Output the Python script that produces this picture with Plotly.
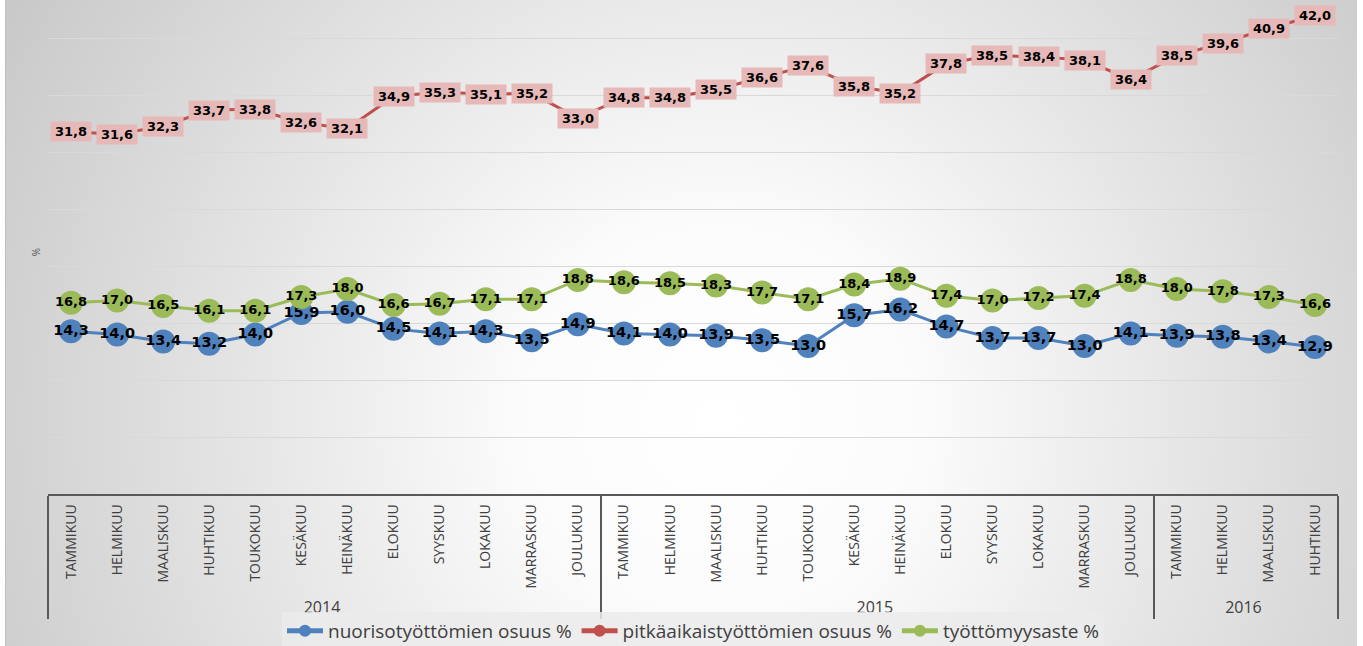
import base64

import plotly.graph_objects as go

# --- data -------------------------------------------------------------
years = ["2014"] * 12 + ["2015"] * 12 + ["2016"] * 4
months_all = ["TAMMIKUU", "HELMIKUU", "MAALISKUU", "HUHTIKUU", "TOUKOKUU", "KESÄKUU",
              "HEINÄKUU", "ELOKUU", "SYYSKUU", "LOKAKUU", "MARRASKUU", "JOULUKUU"]
months = months_all + months_all + months_all[:4]

nuoriso = [14.3, 14.0, 13.4, 13.2, 14.0, 15.9, 16.0, 14.5, 14.1, 14.3, 13.5, 14.9,
           14.1, 14.0, 13.9, 13.5, 13.0, 15.7, 16.2, 14.7, 13.7, 13.7, 13.0, 14.1,
           13.9, 13.8, 13.4, 12.9]
pitkaaik = [31.8, 31.6, 32.3, 33.7, 33.8, 32.6, 32.1, 34.9, 35.3, 35.1, 35.2, 33.0,
            34.8, 34.8, 35.5, 36.6, 37.6, 35.8, 35.2, 37.8, 38.5, 38.4, 38.1, 36.4,
            38.5, 39.6, 40.9, 42.0]
tyottomyys = [16.8, 17.0, 16.5, 16.1, 16.1, 17.3, 18.0, 16.6, 16.7, 17.1, 17.1, 18.8,
              18.6, 18.5, 18.3, 17.7, 17.1, 18.4, 18.9, 17.4, 17.0, 17.2, 17.4, 18.8,
              18.0, 17.8, 17.3, 16.6]

BLUE, RED, GREEN = "#4f81bd", "#c0504d", "#9bbb59"
W, H = 1363, 646
M = dict(l=48, r=25, t=10, b=152)
n = len(months)

# year row of the category axis is printed a bit larger than the months
year_lbl = [f"<span style='font-size:16px'>{y}</span>" for y in years]
xcat = [year_lbl, months]

# --- background (radial grey gradient like the Excel chart area) -------
svg = f"""<svg xmlns='http://www.w3.org/2000/svg' width='{W}' height='{H}'>
<defs><radialGradient id='g' gradientUnits='userSpaceOnUse' cx='720' cy='420' r='820'>
<stop offset='0' stop-color='#ffffff'/><stop offset='0.25' stop-color='#fbfbfb'/>
<stop offset='1' stop-color='#c9c9c9'/></radialGradient></defs>
<rect x='5' y='0' width='{W - 11}' height='{H}' fill='url(#g)'/>
<line x1='5.5' y1='0' x2='5.5' y2='{H}' stroke='#bfbfbf'/>
</svg>"""
bg_uri = "data:image/svg+xml;base64," + base64.b64encode(svg.encode()).decode()
pw, ph = W - M["l"] - M["r"], H - M["t"] - M["b"]

fig = go.Figure()
label_font = dict(family="DejaVu Sans", size=13, color="black", weight="bold")

fig.add_trace(go.Scatter(
    x=xcat, y=nuoriso, name="nuorisotyöttömien osuus %",
    mode="lines+markers+text", line=dict(color=BLUE, width=3),
    marker=dict(size=24, color=BLUE),
    text=nuoriso, texttemplate="%{y:.1f}", textposition="middle center",
    textfont=dict(family="DejaVu Sans", size=14.5, color="black", weight="bold"),
    cliponaxis=False,
))
fig.add_trace(go.Scatter(
    x=xcat, y=pitkaaik, name="pitkäaikaistyöttömien osuus %",
    mode="lines+markers", line=dict(color=RED, width=3),
    marker=dict(size=8, color=RED), cliponaxis=False,
))
fig.add_trace(go.Scatter(
    x=xcat, y=tyottomyys, name="työttömyysaste %",
    mode="lines+markers+text", line=dict(color=GREEN, width=3),
    marker=dict(size=24, color=GREEN),
    text=tyottomyys, texttemplate="%{y:.1f}", textposition="middle center",
    textfont=label_font, cliponaxis=False,
))

# red series labels: pink boxes centred on the points
for i, v in enumerate(pitkaaik):
    fig.add_annotation(
        x=i, y=v, xref="x2", yref="y", text=f"{v:.1f}".replace(".", ","),
        showarrow=False, bgcolor="#e6b9b8", font=label_font,
        width=38, height=17, borderpad=1,
    )

fig.update_layout(
    width=W, height=H, margin=M, autosize=False,
    paper_bgcolor="white", plot_bgcolor="rgba(0,0,0,0)",
    separators=", ",
    images=[dict(source=bg_uri, xref="paper", yref="paper",
                 x=-M["l"] / pw, y=1 + M["t"] / ph, sizex=W / pw, sizey=H / ph,
                 xanchor="left", yanchor="top", sizing="stretch", layer="below")],
    xaxis=dict(type="multicategory", range=[-0.5, n - 0.5], showgrid=False,
               automargin=False, ticklabelstandoff=3,
               showline=True, linecolor="#595959", linewidth=1.5,
               showdividers=True, dividercolor="#595959", dividerwidth=2,
               tickangle=-90, tickfont=dict(family="Open Sans", size=14, color="#404040")),
    xaxis2=dict(overlaying="x", anchor="y", range=[-0.5, n - 0.5], visible=False),
    yaxis=dict(range=[0, 42.5], dtick=5, showticklabels=False, zeroline=False,
               automargin=False,
               showgrid=True, gridcolor="#d9d9d9", gridwidth=1,
               title=dict(text="%", standoff=4,
                          font=dict(family="Open Sans", size=10, color="#595959"))),
    showlegend=True,
    legend=dict(orientation="h", x=0.5, xanchor="center",
                yref="container", y=(H - 612) / H, yanchor="top",
                bgcolor="rgba(235,235,235,0.85)", itemsizing="constant",
                font=dict(family="Open Sans", size=19, color="#404040"),
                itemwidth=36, traceorder="normal"),
)

fig.write_html("out.html",
               config={"responsive": False, "displayModeBar": False},
               post_script="document.body.style.margin='0';document.body.style.overflow='hidden';")
